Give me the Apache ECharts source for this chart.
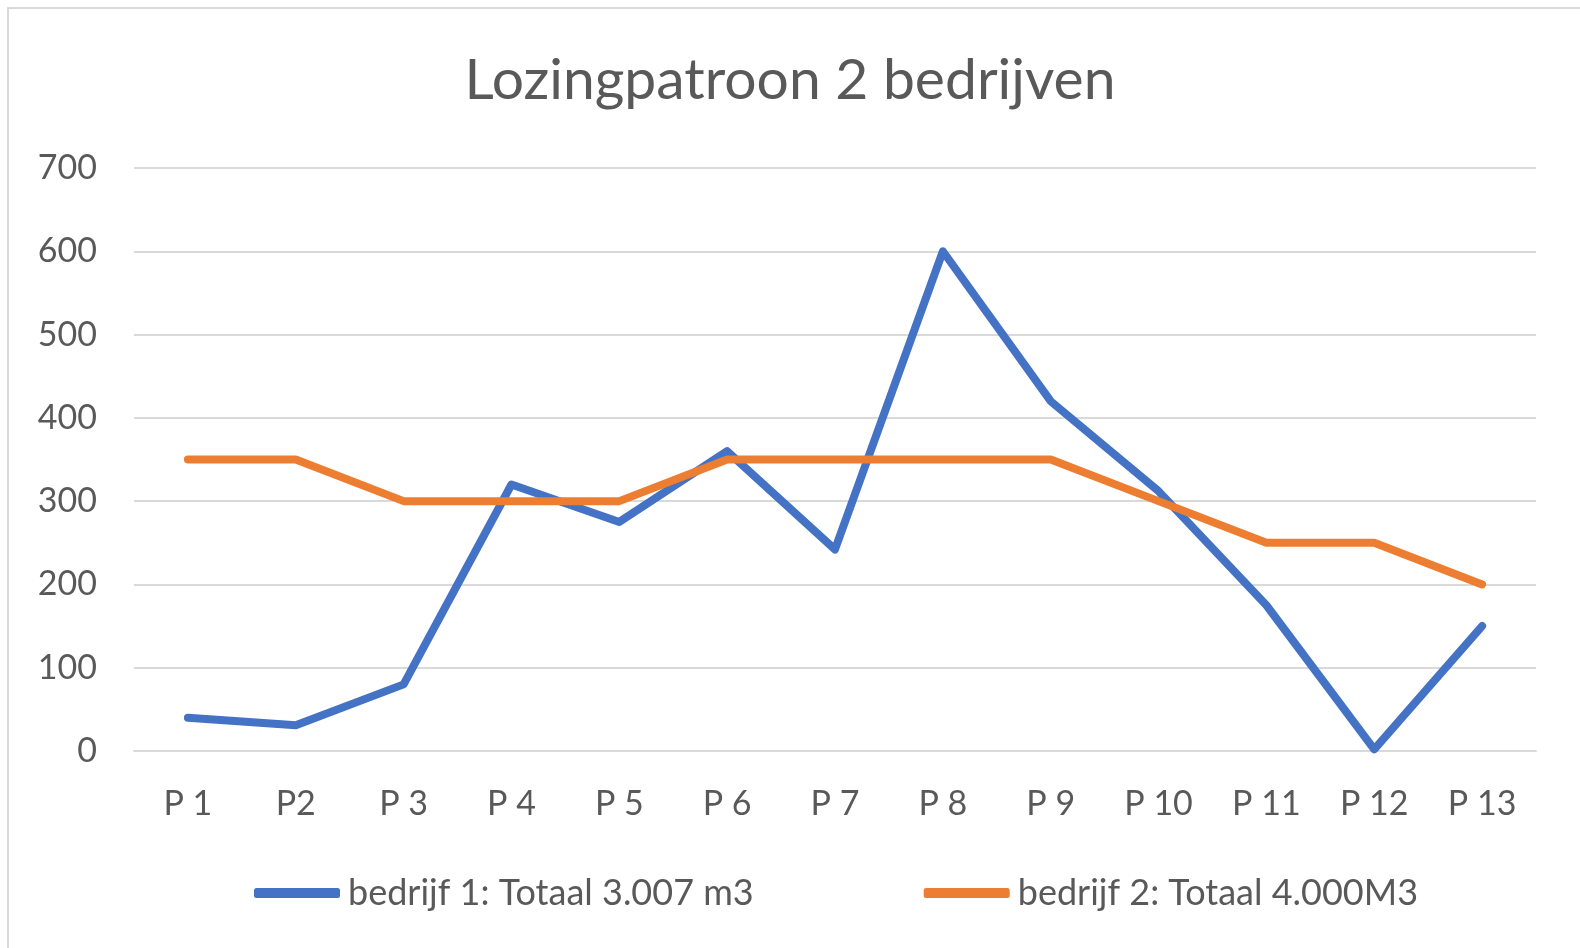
<!DOCTYPE html>
<html>
<head>
<meta charset="utf-8">
<script src="https://cdn.jsdelivr.net/npm/echarts@6/dist/echarts.min.js"></script>
<style>
  html, body { margin: 0; padding: 0; background: #fff; }
  #chart { width: 1580px; height: 948px; }
</style>
</head>
<body>
<div id="chart"></div>
<script>
// categories and values
var periods = ['P 1', 'P2', 'P 3', 'P 4', 'P 5', 'P 6', 'P 7', 'P 8', 'P 9', 'P 10', 'P 11', 'P 12', 'P 13'];
var bedrijf1 = [40, 31, 80, 320, 275, 360, 242, 600, 420, 312, 175, 2, 150];
var bedrijf2 = [350, 350, 300, 300, 300, 350, 350, 350, 350, 300, 250, 250, 200];
var seriesNames = ['bedrijf 1: Totaal 3.007 m3', 'bedrijf 2: Totaal 4.000M3'];

var chart = echarts.init(document.getElementById('chart'));
var fontName = 'Lato, "Open Sans", sans-serif';

var option = {
    animation: false,
    backgroundColor: '#fff',
    color: ['#4472C4', '#ED7D31'],
    graphic: [{
        type: 'rect',
        shape: { x: 8, y: 8, width: 1620, height: 1000 },
        style: { fill: 'none', stroke: '#d9d9d9', lineWidth: 2 }
    }],
    title: {
        text: 'Lozingpatroon 2 bedrijven',
        left: 'center',
        top: 47,
        textStyle: {
            fontFamily: fontName,
            fontSize: 57,
            fontWeight: 'normal',
            color: '#595959'
        }
    },
    legend: {
        data: seriesNames,
        top: 870,
        left: 249,
        itemWidth: 86,
        itemHeight: 10,
        itemGap: 170,
        icon: 'roundRect',
        textStyle: {
            fontFamily: fontName,
            fontSize: 36,
            color: '#595959',
            padding: [0, 0, 0, 3]
        }
    },
    grid: {
        left: 134,
        right: 44,
        top: 168,
        bottom: 197
    },
    xAxis: {
        type: 'category',
        data: periods,
        boundaryGap: true,
        axisLine: { lineStyle: { color: '#d9d9d9', width: 2 } },
        axisTick: { show: false },
        axisLabel: {
            margin: 36,
            fontFamily: fontName,
            fontSize: 34,
            color: '#595959'
        }
    },
    yAxis: {
        type: 'value',
        min: 0,
        max: 700,
        interval: 100,
        axisLine: { show: false },
        axisTick: { show: false },
        splitLine: { lineStyle: { color: '#d9d9d9', width: 2 } },
        axisLabel: {
            margin: 37,
            fontFamily: fontName,
            fontSize: 34,
            color: '#595959'
        }
    },
    series: [{
        name: seriesNames[0],
        type: 'line',
        data: bedrijf1,
        symbol: 'none',
        lineStyle: { width: 8, cap: 'round', join: 'round' }
    }, {
        name: seriesNames[1],
        type: 'line',
        data: bedrijf2,
        symbol: 'none',
        lineStyle: { width: 8, cap: 'round', join: 'round' }
    }]
};

chart.setOption(option);
</script>
</body>
</html>
